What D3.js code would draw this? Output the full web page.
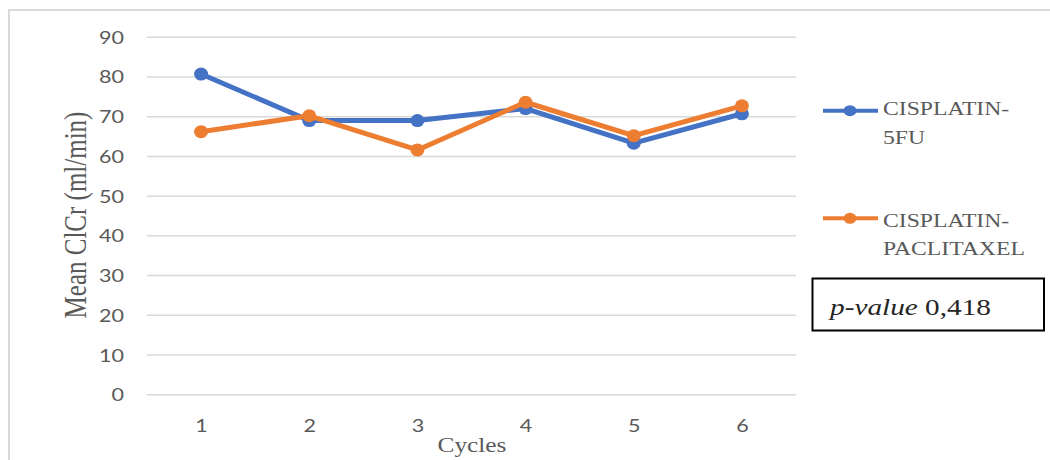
<!DOCTYPE html>
<html>
<head>
<meta charset="utf-8">
<script src="https://cdn.jsdelivr.net/npm/d3@7"></script>
<style>
  body { margin: 0; background: #fff; }
  svg { display: block; }
</style>
</head>
<body>
<div id="chart"></div>
<script>
// values
let cycles = ["1", "2", "3", "4", "5", "6"];
let cisplatin5fu = [80.6, 68.9, 68.9, 71.9, 63.2, 70.6];
let cisplatinPaclitaxel = [66.1, 70.1, 61.5, 73.5, 65.1, 72.6];
let seriesNames = ["CISPLATIN-5FU", "CISPLATIN-PACLITAXEL"];
let yTicks = [0, 10, 20, 30, 40, 50, 60, 70, 80, 90];

let width = 1050;
let height = 460;
let plotLeft = 147;
let plotRight = 796;
let plotTop = 36.7;
let plotBottom = 394.3;
let blue = "#4472C4";
let orange = "#ED7D31";
let grey = "#595959";
let serif = "'Liberation Serif', 'Times New Roman', serif";
let sans = "Lato, 'Open Sans', sans-serif";
// the picture is a bit wider than tall, so text is widened a little
let stretch = 1.23;

let svg = d3.select("#chart")
  .append("svg")
  .attr("width", width)
  .attr("height", height);

// frame (only top and left edges show)
svg.append("path")
  .attr("d", "M9," + height + "V10H" + width)
  .attr("fill", "none")
  .attr("stroke", "#d9d9d9")
  .attr("stroke-width", 2);

let x = d3.scalePoint().domain(cycles).range([plotLeft, plotRight]).padding(0.5);
let y = d3.scaleLinear().domain([0, 90]).range([plotBottom, plotTop]);

// gridlines + y tick labels
let yAxis = svg.append("g")
  .attr("transform", "translate(" + plotLeft + ",0)")
  .call(d3.axisLeft(y).tickValues(yTicks).tickSize(-(plotRight - plotLeft)).tickFormat(d3.format("d")));
yAxis.select(".domain").remove();
yAxis.selectAll(".tick line").attr("stroke", "#d9d9d9").attr("stroke-width", 1.5);
yAxis.selectAll(".tick text")
  .attr("x", 0).attr("dy", 0)
  .attr("transform", "translate(-23,6.5) scale(" + stretch + ",1)")
  .attr("fill", grey)
  .style("font-family", sans)
  .style("font-size", "17.5px");

// x tick labels
let xAxis = svg.append("g")
  .attr("transform", "translate(0," + plotBottom + ")")
  .call(d3.axisBottom(x).tickSize(0));
xAxis.select(".domain").remove();
xAxis.selectAll(".tick text")
  .attr("y", 0).attr("dy", 0)
  .attr("transform", "translate(0,37.4) scale(" + stretch + ",1)")
  .attr("fill", grey)
  .style("font-family", sans)
  .style("font-size", "17.5px");

// axis titles
svg.append("text")
  .attr("transform", "translate(472,451.5) scale(1.15,1)")
  .attr("text-anchor", "middle")
  .attr("fill", grey)
  .style("font-family", serif)
  .style("font-size", "22px")
  .text("Cycles");

svg.append("text")
  .attr("transform", "translate(86,215) scale(1.25,1) rotate(-90)")
  .attr("text-anchor", "middle")
  .attr("fill", grey)
  .style("font-family", serif)
  .style("font-size", "25px")
  .text("Mean ClCr (ml/min)");

// lines
let line = d3.line()
  .x((d, i) => x(cycles[i]))
  .y(d => y(d));

let series = [
  { name: seriesNames[0], values: cisplatin5fu, color: blue },
  { name: seriesNames[1], values: cisplatinPaclitaxel, color: orange }
];

series.forEach(function(s) {
  svg.append("path")
    .datum(s.values)
    .attr("d", line)
    .attr("fill", "none")
    .attr("stroke", s.color)
    .attr("stroke-width", 5)
    .attr("stroke-linejoin", "round");

  svg.selectAll(null)
    .data(s.values)
    .enter()
    .append("ellipse")
    .attr("cx", (d, i) => x(cycles[i]))
    .attr("cy", d => y(d))
    .attr("rx", 7)
    .attr("ry", 6.5)
    .attr("fill", s.color);
});

// legend
let legendRows = [
  { color: blue, y: 110.7, lines: ["CISPLATIN-", "5FU"], base: 115 },
  { color: orange, y: 218.3, lines: ["CISPLATIN-", "PACLITAXEL"], base: 226.7 }
];

legendRows.forEach(function(r) {
  let g = svg.append("g");
  g.append("line")
    .attr("x1", 823).attr("x2", 878)
    .attr("y1", r.y).attr("y2", r.y)
    .attr("stroke", r.color)
    .attr("stroke-width", 4);
  g.append("ellipse")
    .attr("cx", 850).attr("cy", r.y)
    .attr("rx", 6.5).attr("ry", 5.5)
    .attr("fill", r.color);
  r.lines.forEach(function(t, i) {
    g.append("text")
      .attr("transform", "translate(883," + (r.base + i * 28.5) + ") scale(1.28,1)")
      .attr("font-family", serif)
      .attr("fill", grey)
      .style("font-family", serif)
      .style("font-size", "18.5px")
      .text(t);
  });
});

// p-value box
svg.append("rect")
  .attr("x", 812.5).attr("y", 278.5)
  .attr("width", 231.5).attr("height", 52)
  .attr("fill", "#fff")
  .attr("stroke", "#000")
  .attr("stroke-width", 2);

let pText = svg.append("text")
  .attr("transform", "translate(830,315) scale(1.22,1)")
  .attr("font-family", serif)
  .attr("fill", "#262626")
  .style("font-family", serif)
  .style("font-size", "24px");
pText.append("tspan").style("font-style", "italic").text("p-value");
pText.append("tspan").text(" 0,418");
</script>
</body>
</html>
